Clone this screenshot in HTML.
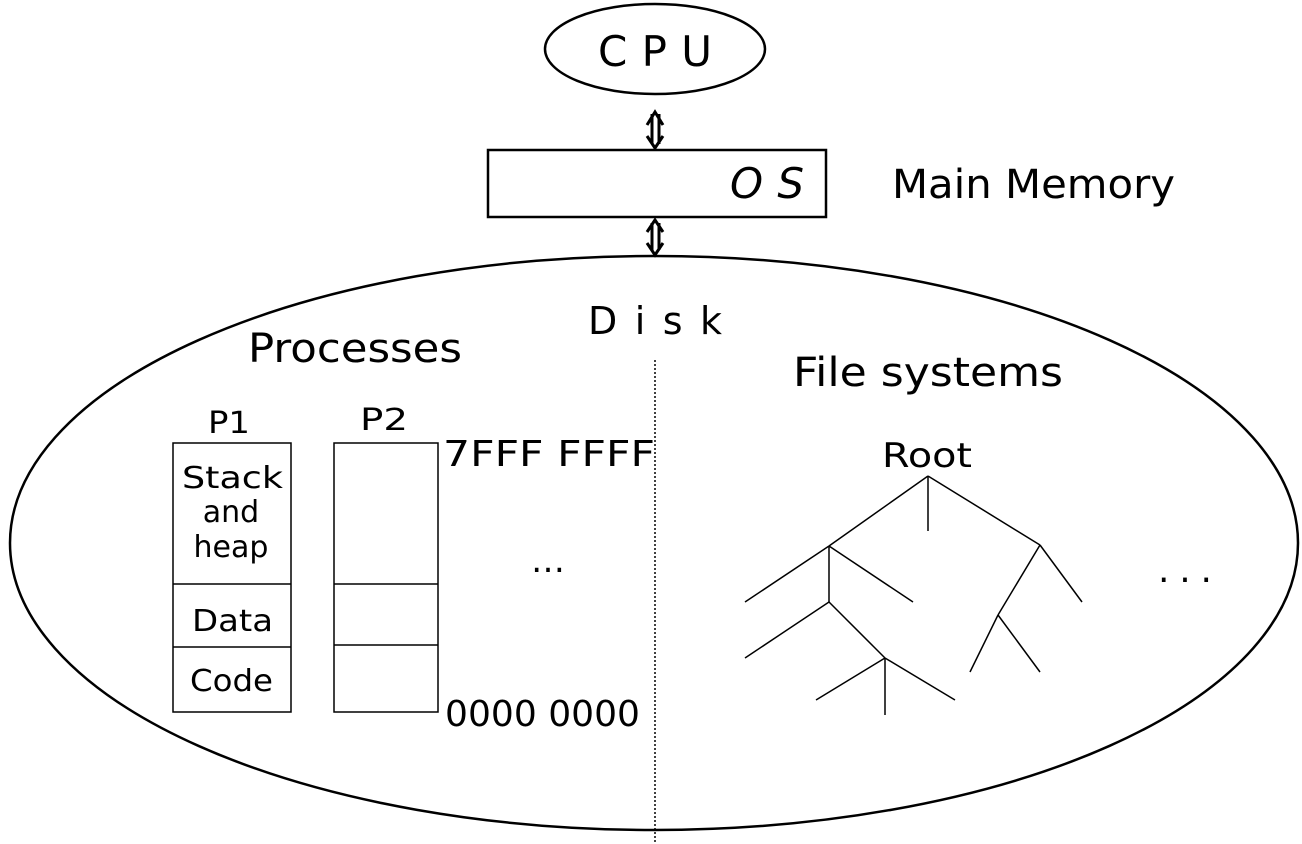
<!DOCTYPE html>
<html><head><style>
html,body{margin:0;padding:0;background:#fff;}
svg{display:block;}
text{font-family:"DejaVu Sans","Liberation Sans",sans-serif;fill:#000;}
</style></head><body>
<svg width="1302" height="844" viewBox="0 0 1302 844" xmlns="http://www.w3.org/2000/svg">
<g fill="none" stroke="#000">
<ellipse cx="655" cy="49" rx="110" ry="45" stroke-width="2.5"/>
<rect x="488" y="150" width="338" height="67" stroke-width="2.5"/>
<ellipse cx="654" cy="543" rx="644" ry="287" stroke-width="2.5"/>
<line x1="655" y1="360" x2="655" y2="844" stroke-width="1.5" stroke-dasharray="2,2"/>
<g stroke-width="3">
<line x1="652" y1="114" x2="652" y2="144"/><line x1="659" y1="114" x2="659" y2="144"/>
<polyline points="647,125 655,112 663,125"/><polyline points="647,136 655,148 663,136"/>
<line x1="652" y1="223" x2="652" y2="250"/><line x1="659" y1="223" x2="659" y2="250"/>
<polyline points="647,232 655,220 663,232"/><polyline points="647,243 655,255 663,243"/>
</g>
<g stroke-width="1.5">
<rect x="173" y="443" width="118" height="269"/>
<line x1="173" y1="584" x2="291" y2="584"/><line x1="173" y1="647" x2="291" y2="647"/>
<rect x="334" y="443" width="104" height="269"/>
<line x1="334" y1="584" x2="438" y2="584"/><line x1="334" y1="645" x2="438" y2="645"/>
<line x1="928" y1="476" x2="928" y2="531"/>
<line x1="928" y1="476" x2="829" y2="546"/>
<line x1="928" y1="476" x2="1040" y2="545"/>
<line x1="829" y1="546" x2="745" y2="602"/>
<line x1="829" y1="546" x2="913" y2="602"/>
<line x1="829" y1="546" x2="829" y2="602"/>
<line x1="829" y1="602" x2="745" y2="658"/>
<line x1="829" y1="602" x2="885" y2="658"/>
<line x1="885" y1="658" x2="816" y2="700"/>
<line x1="885" y1="658" x2="955" y2="700"/>
<line x1="885" y1="658" x2="885" y2="715"/>
<line x1="1040" y1="545" x2="1082" y2="602"/>
<line x1="1040" y1="545" x2="998" y2="615"/>
<line x1="998" y1="615" x2="970" y2="672"/>
<line x1="998" y1="615" x2="1040" y2="672"/>
</g>
</g>
<text x="598" y="66" font-size="42" textLength="114" lengthAdjust="spacing">CPU</text>
<text x="730" y="198" font-size="42" font-style="italic" textLength="74" lengthAdjust="spacing">OS</text>
<text x="892" y="198" font-size="40" font-family="Liberation Sans" textLength="283" lengthAdjust="spacingAndGlyphs">Main Memory</text>
<text x="588" y="334" font-size="38" textLength="134" lengthAdjust="spacing">Disk</text>
<text x="248" y="362" font-size="40" textLength="214" lengthAdjust="spacingAndGlyphs">Processes</text>
<text x="793" y="386" font-size="40" textLength="270" lengthAdjust="spacingAndGlyphs">File systems</text>
<text x="208" y="433" font-size="30" textLength="42" lengthAdjust="spacingAndGlyphs">P1</text>
<text x="360" y="430" font-size="30" textLength="48" lengthAdjust="spacingAndGlyphs">P2</text>
<text x="182" y="488" font-size="30" textLength="101" lengthAdjust="spacingAndGlyphs">Stack</text>
<text x="231" y="522" font-size="30" text-anchor="middle">and</text>
<text x="231" y="557" font-size="30" text-anchor="middle">heap</text>
<text x="192" y="631" font-size="30" textLength="81" lengthAdjust="spacingAndGlyphs">Data</text>
<text x="190" y="691" font-size="30" textLength="83" lengthAdjust="spacingAndGlyphs">Code</text>
<text x="443" y="466" font-size="36" font-family="Liberation Sans" textLength="212" lengthAdjust="spacingAndGlyphs">7FFF FFFF</text>
<text x="445" y="726" font-size="36" font-family="Liberation Sans" textLength="195" lengthAdjust="spacingAndGlyphs">0000 0000</text>
<text x="531" y="572" font-size="34" textLength="40" lengthAdjust="spacing">…</text>
<text x="1158" y="582" font-size="36" textLength="54" lengthAdjust="spacing">...</text>
<text x="882" y="467" font-size="34" textLength="90" lengthAdjust="spacingAndGlyphs">Root</text>
</svg>
</body></html>
